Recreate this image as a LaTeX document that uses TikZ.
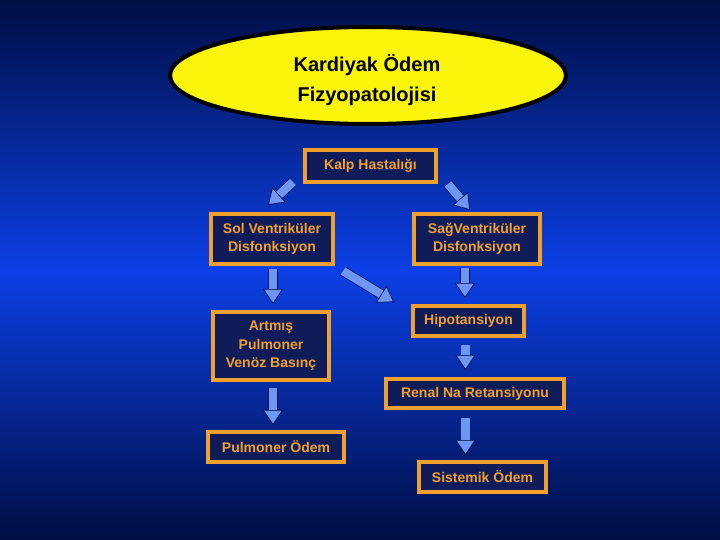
\documentclass[tikz,border=0pt]{standalone}
\usepackage{fontspec}
\setmainfont{Liberation Sans}
\usepackage{tikz}
\usepackage{xcolor}
\usetikzlibrary{shapes.geometric, arrows.meta}
\definecolor{cNavy}{RGB}{0,14,68}
\definecolor{cBright}{RGB}{12,64,230}
\definecolor{cBox}{RGB}{16,28,90}
\definecolor{cOrange}{RGB}{240,160,45}
\definecolor{cYellow}{RGB}{250,245,10}
\definecolor{cArrow}{RGB}{110,150,245}
\definecolor{cArrowLine}{RGB}{10,20,80}
\tikzset{
	titleoval/.style={ellipse, draw=black, line width=4pt, fill=cYellow, minimum width=396pt, minimum height=97pt},
	titletext/.style={align=center, text=black, font=\bfseries\fontsize{20}{30}\selectfont},
	stepbox/.style={rectangle, draw=cOrange, line width=4pt, fill=cBox, text=cOrange, align=center, inner sep=2pt, font=\bfseries\fontsize{14}{18.5}\selectfont},
	% block arrows between the boxes
	fatarrow/.style={draw=cArrowLine, line width=0.7pt, double=cArrow, double distance=8.5pt,
		-{Triangle[width=20pt, length=15pt, fill=cArrow, color=cArrowLine, line width=0.7pt]}},
}
\begin{document}
\begin{tikzpicture}[x=1pt, y=-1pt]
	\shade[top color=cNavy, bottom color=cBright] (0,0) rectangle (720,270);
	\shade[top color=cBright, bottom color=cNavy] (0,269.5) rectangle (720,540);
	\useasboundingbox (0,0) rectangle (720,540);

	\node[titleoval] (oval) at (368,75.5) {};
	\node[titletext] (baslik) at (367,80) {Kardiyak Ödem\\Fizyopatolojisi};

	\node[stepbox, minimum width=131pt, minimum height=32pt] (kalp) at (370.5,166) {Kalp Hastalığı};
	\node[stepbox, minimum width=122pt, minimum height=50pt] (solv) at (272,239) {Sol Ventriküler\\Disfonksiyon};
	\node[stepbox, minimum width=126pt, minimum height=50pt] (sagv) at (477,239) {SağVentriküler\\Disfonksiyon};
	\node[stepbox, minimum width=116pt, minimum height=68pt] (artmis) at (271,346) {Artmış\\Pulmoner\\Venöz Basınç};
	\node[stepbox, minimum width=111pt, minimum height=30pt] (hipo) at (468.5,321) {Hipotansiyon};
	\node[stepbox, minimum width=178pt, minimum height=29pt] (renal) at (475,393.5) {Renal Na Retansiyonu};
	\node[stepbox, minimum width=136pt, minimum height=30pt] (pulmodem) at (276,447) {Pulmoner Ödem};
	\node[stepbox, minimum width=127pt, minimum height=30pt] (sistodem) at (482.5,477) {Sistemik Ödem};

	\draw[fatarrow] ([shift={(-10,-2)}]kalp.south west) -- ([shift={(-4,-7)}]solv.north);
	\draw[fatarrow] ([shift={(10,0)}]kalp.south east) -- ([shift={(-7,-2)}]sagv.north);
	\draw[fatarrow] ([shift={(8,5)}]solv.south east) -- ([shift={(-17,-2)}]hipo.north west);
	\draw[fatarrow] ([shift={(1,3)}]solv.south) -- ([shift={(2,-6)}]artmis.north);
	\draw[fatarrow] ([shift={(-12,2)}]sagv.south) -- ([shift={(-3.5,-6)}]hipo.north);
	\draw[fatarrow] ([shift={(-3,7)}]hipo.south) -- ([shift={(-9.5,-7)}]renal.north);
	\draw[fatarrow] ([shift={(2,6)}]artmis.south) -- ([shift={(-3,-5)}]pulmodem.north);
	\draw[fatarrow] ([shift={(-9.5,8)}]renal.south) -- ([shift={(-17,-5)}]sistodem.north);
\end{tikzpicture}
\end{document}
